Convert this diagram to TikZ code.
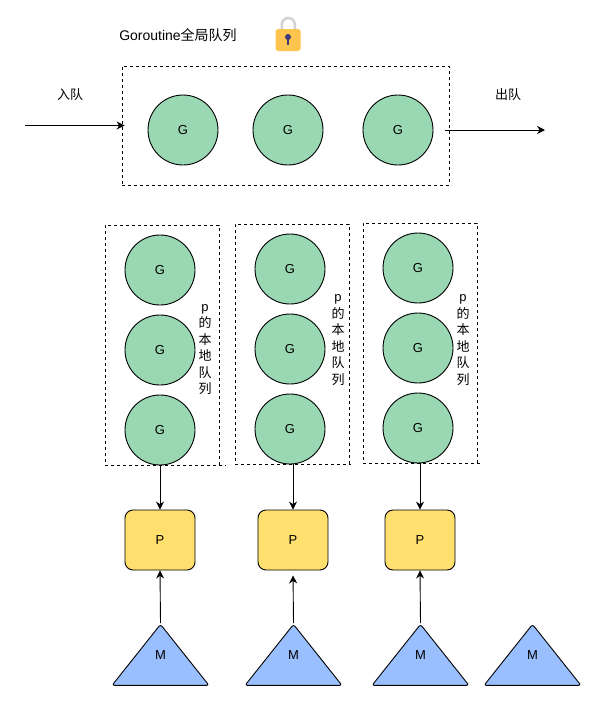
\documentclass[tikz,border=0pt]{standalone}
\usepackage{fontspec}
\setmainfont{Liberation Sans}
\newfontfamily\cjk{Noto Sans CJK SC}
\usetikzlibrary{arrows.meta,shapes.geometric}
\definecolor{gfill}{HTML}{9AD8B4}
\definecolor{pfill}{HTML}{FFE06E}
\definecolor{mfill}{HTML}{99BFFF}
\definecolor{lockbody}{HTML}{FDC44E}
\definecolor{lockbar}{HTML}{D3D3D3}
\definecolor{lockhole}{HTML}{3A3A78}
\tikzset{
  qline/.style={dash pattern=on 3pt off 3pt, line width=0.9pt},
  qbox/.style={draw, qline, minimum width=#1, inner sep=0pt},
  gnode/.style={draw, circle, fill=gfill, minimum size=70pt, inner sep=0pt, line width=0.9pt},
  pnode/.style={draw, rectangle, rounded corners=8pt, fill=pfill, minimum width=70pt, minimum height=60pt, line width=0.9pt},
  mnode/.style={draw, isosceles triangle, isosceles triangle stretches, shape border rotate=90,
    rounded corners=2.5pt, fill=mfill, minimum width=97pt, minimum height=61pt, inner sep=0pt, line width=0.9pt},
  link/.style={-{Stealth[length=8pt,width=8pt]}, line width=0.9pt},
  lbl/.style={inner sep=0pt, align=center},
  vlbl/.style={lbl, font=\fontsize{13}{16.5}\selectfont}
}
\begin{document}
\begin{tikzpicture}[x=1pt, y=-1pt, font=\fontsize{13}{15}\selectfont]
  \useasboundingbox (0,0) rectangle (597,702);
  % global queue
  \node[qbox=327pt, minimum height=119pt] (Q) at (285.5,125.5) {};
  \node[gnode] (G1) at (183,130) {G};
  \node[gnode] (G2) at (288,130) {G};
  \node[gnode] (G3) at (398,130) {G};
  \node[lbl, font=\fontsize{14}{16}\selectfont] (title) at (178,35) {Goroutine{\cjk 全局队列}};
  \node[lbl] (enq) at (70,95) {\cjk 入队};
  \node[lbl] (deq) at (508,95) {\cjk 出队};
  \coordinate (in) at (25,125.5);
  \coordinate (outA) at (445,130);
  \coordinate (outB) at (545,130);
  \draw[link, shorten >=-3pt] (in) -- (Q.west |- in);
  \draw[link] (outA) -- (outB);
  % lock
  \draw[lockbar, line width=2.6pt] (281.8,31) -- (281.8,24.5) arc (180:360:6.5) -- (294.8,31);
  \fill[lockbody, rounded corners=2.5pt] (275.7,29) rectangle (300.5,51);
  \fill[lockhole] (288,37) circle (3);
  \fill[lockhole] (286.8,37) rectangle (289.2,45);
  % local queues
  \node[qbox=114pt, minimum height=240pt] (L1) at (162,345) {};
  \node[qbox=114pt, minimum height=240pt] (L2) at (292,344) {};
  \node[qbox=114pt, minimum height=240pt] (L3) at (420,343) {};
  \draw[qline] (L1.south east) -- ++(7,0);
  \draw[qline] (L2.south east) -- ++(2,0);
  \draw[qline] (L3.south east) -- ++(4,0);
  \node[gnode] (G11) at (160,270) {G};
  \node[gnode] (G12) at (160,350) {G};
  \node[gnode] (G13) at (160,430) {G};
  \node[gnode] (G21) at (290,269) {G};
  \node[gnode] (G22) at (290,349) {G};
  \node[gnode] (G23) at (290,429) {G};
  \node[gnode] (G31) at (418,268) {G};
  \node[gnode] (G32) at (418,348) {G};
  \node[gnode] (G33) at (418,428) {G};
  \node[vlbl] (T1) at (205,349.5) {p\\\cjk 的\\\cjk 本\\\cjk 地\\\cjk 队\\\cjk 列};
  \node[vlbl] (T2) at (338,340) {p\\\cjk 的\\\cjk 本\\\cjk 地\\\cjk 队\\\cjk 列};
  \node[vlbl] (T3) at (463,340) {p\\\cjk 的\\\cjk 本\\\cjk 地\\\cjk 队\\\cjk 列};
  % processors and threads
  \node[pnode] (P1) at (160,540) {P};
  \node[pnode] (P2) at (293,540) {P};
  \node[pnode] (P3) at (420,540) {P};
  \node[mnode] (M1) at (160.5,662) {};
  \node[mnode] (M2) at (293.5,662) {};
  \node[mnode] (M3) at (420.5,662) {};
  \node[mnode] (M4) at (532.5,662) {};
  \node[lbl] (MT1) at (160.5,655) {M};
  \node[lbl] (MT2) at (293.5,655) {M};
  \node[lbl] (MT3) at (420.5,655) {M};
  \node[lbl] (MT4) at (532.5,655) {M};
  \draw[link] (G13.south) -- (P1.north);
  \draw[link] (G23.south -| P2.north) -- (P2.north);
  \draw[link] (G33.south -| P3.north) -- (P3.north);
  \draw[link] (M1.apex) -- (P1.south);
  \draw[link, shorten >=5pt] (M2.apex) -- (P2.south);
  \draw[link] (M3.apex) -- (P3.south);
\end{tikzpicture}
\end{document}
